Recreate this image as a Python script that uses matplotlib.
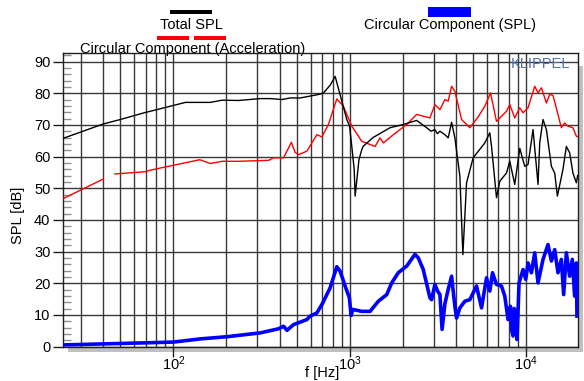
import numpy as np
import matplotlib
matplotlib.use('Agg')
import matplotlib.pyplot as plt
from matplotlib.patches import Rectangle
from matplotlib.ticker import FixedLocator, MultipleLocator, NullFormatter

plt.rcParams['font.family'] = ['Liberation Sans', 'DejaVu Sans']
plt.rcParams['mathtext.fontset'] = 'custom'
plt.rcParams['mathtext.rm'] = 'Liberation Sans'
plt.rcParams['mathtext.default'] = 'regular'

# Total SPL
total_f = [23.8, 40, 50, 69, 74, 117, 162, 189, 234, 311, 355, 413, 460, 524,
           572, 652, 708, 775, 828, 964, 1000, 1029, 1062, 1075, 1130, 1173, 1193,
           1359, 1696, 2010, 2403, 2738, 2900, 3050, 3150, 3256, 3475, 3629, 3793,
           3960, 4227, 4396, 4613, 5028, 5858, 6252, 6393, 6823, 7123, 7773, 8115,
           8662, 9247, 9870, 10304, 11000, 11741, 12004, 12531, 13102, 13984,
           14600, 15121, 16264, 17003, 17750, 18530, 19381, 19711]
total_spl = [65.8, 70.3, 71.7, 73.9, 74.3, 77.1, 77.1, 77.8, 77.7, 78.3, 78.3, 78.0, 78.5, 78.5,
             78.9, 79.5, 80.0, 82.5, 85.3, 71.7, 69.6, 63.2, 55.9, 47.5, 59.0, 62.2, 63.2,
             66.0, 69.1, 70.1, 71.4, 69.1, 68.0, 68.5, 67.2, 68.0, 66.9, 65.9, 70.8,
             65.9, 53.8, 29.0, 51.7, 59.6, 64.3, 67.5, 63.2, 47.0, 52.2, 54.8, 58.5,
             51.2, 62.6, 56.9, 57.5, 68.5, 51.2, 64.3, 71.7, 68.5, 56.9,
             54.8, 47.5, 55.9, 63.2, 61.2, 54.8, 51.7, 54.0]

# Circular Component (Acceleration), gap between 40 and 46 Hz
accel_f = [23.8, 40, np.nan, 46.5, 69, 74, 141, 162, 189, 234, 347, 370, 404, 422,
           467, 491, 513, 572, 652, 696, 758, 846, 922, 1029, 1173, 1395, 1489, 1554,
           1771, 2109, 2403, 2858, 3050, 3256, 3475, 3629, 3793, 3960, 4322, 4816,
           5366, 5858, 6310, 6823, 7773, 8115, 8662, 9247, 9654, 10304, 11246, 11741,
           12274, 13102, 13677, 14280, 15240, 15929, 16631, 17362, 18530, 19381, 19711]
accel_spl = [46.8, 52.9, np.nan, 54.5, 55.2, 55.7, 59.0, 57.8, 58.5, 58.5, 58.8, 59.6, 59.6, 59.6,
             64.5, 61.3, 60.6, 61.7, 66.9, 66.2, 70.1, 78.2, 75.9, 69.6, 64.8, 63.2, 65.9, 64.3,
             66.9, 70.1, 73.3, 72.2, 76.4, 74.8, 78.0, 77.5, 82.2, 80.6, 71.7, 69.1,
             72.5, 75.9, 80.1, 71.1, 74.3, 76.4, 72.2, 75.4, 73.8, 75.4, 82.2, 80.1,
             81.7, 76.9, 79.6, 79.3, 73.3, 69.1, 70.6, 69.6, 69.1, 66.4, 66.3]

# Circular Component (SPL)
circ_f = [23.8, 74, 100, 142, 202, 311, 395, 422, 441, 480, 572, 597, 652, 700,
          775, 846, 883, 943, 997, 1020, 1043, 1173, 1307, 1456, 1625, 1734, 1890,
          2109, 2350, 2454, 2619, 2858, 2922, 3050, 3160, 3256, 3350, 3475, 3629,
          3793, 3960, 4049, 4227, 4512, 4816, 5256, 5610, 5989, 6252, 6476, 6823,
          7283, 7603, 7937, 8190, 8330, 8472, 8600, 8777, 8924, 9161, 9654, 10000,
          10304, 10772, 11246, 11741, 12531, 13377, 13984, 14600, 15240, 15929,
          16414, 17003, 17750, 18386, 18945, 19381, 19534]
circ_spl = [0.5, 1.2, 1.4, 2.4, 3.1, 4.3, 5.6, 6.4, 5.1, 6.9, 8.5, 9.6, 10.6, 13.5,
            18.5, 25.2, 23.8, 19.1, 15.4, 9.8, 11.7, 11.1, 11.1, 14.3, 16.4, 20.1, 23.3,
            25.4, 29.1, 28.0, 24.3, 15.4, 14.8, 19.6, 17.5, 16.4, 5.4, 13.5, 18.0,
            22.2, 12.7, 9.0, 12.2, 14.3, 14.8, 19.1, 12.2, 21.7, 17.5, 23.3, 19.6,
            19.1, 15.9, 8.5, 12.7, 5.0, 3.3, 12.0, 10.6, 2.2, 20.1, 24.3, 21.2,
            26.4, 23.3, 29.6, 20.1, 27.5, 32.2, 27.0, 30.6, 23.3, 27.5,
            16.4, 29.6, 22.2, 27.5, 15.9, 26.4, 9.6]

W, H = 584, 381
FS = 10.5
fig = plt.figure(figsize=(W / 100, H / 100), dpi=100)
ax_l, ax_r, ax_t, ax_b = 63, 578, 53, 346.5
ax = fig.add_axes([ax_l / W, 1 - ax_b / H, (ax_r - ax_l) / W, (ax_b - ax_t) / H])


def px(x, y):
    return x / W, 1 - y / H


# drop shadow
fig.patches.append(Rectangle(px(ax_l + 5, ax_b + 5), (ax_r - ax_l) / W,
                             (ax_b - ax_t - 8) / H, transform=fig.transFigure,
                             facecolor='#c0c0c0', edgecolor='none', zorder=-1))

ax.plot(accel_f, accel_spl, color='#ff0000', lw=1.0, zorder=3)
ax.plot(total_f, total_spl, color='black', lw=1.0, zorder=4)
ax.plot(circ_f, circ_spl, color='#0000ff', lw=2.6, zorder=5)

ax.set_xscale('log')
ax.set_xlim(23.6, 19800)
ax.set_ylim(0, 92.7)

ax.xaxis.set_major_locator(FixedLocator([100, 1000, 10000]))
ax.set_xticklabels([r'$10^{2}$', r'$10^{3}$', r'$10^{4}$'])
ax.xaxis.set_minor_locator(FixedLocator(
    [m * 10 ** d for d in range(1, 5) for m in range(1, 10)]))
ax.xaxis.set_minor_formatter(NullFormatter())
ax.yaxis.set_major_locator(MultipleLocator(10))
ax.yaxis.set_minor_locator(MultipleLocator(2))

ax.xaxis.grid(True, which='both', color='#383838', lw=1.0)
ax.yaxis.grid(True, which='major', color='#383838', lw=1.0)
ax.set_axisbelow(True)

ax.tick_params(axis='both', which='major', direction='out', length=7, width=1,
               labelsize=FS, color='#202020', pad=2)
ax.tick_params(axis='x', which='major', pad=-1)
ax.tick_params(axis='x', which='minor', length=0)
ax.tick_params(axis='y', which='minor', direction='in', length=6, width=1,
               color='#909090')
for s in ax.spines.values():
    s.set_linewidth(1.0)
    s.set_color('#202020')

fig.text(*px(322, 373), 'f [Hz]', fontsize=FS, ha='center', va='center')
fig.text(*px(18, 215), 'SPL [dB]', fontsize=FS, ha='center', va='center',
         rotation=90)
fig.text(*px(540, 64), 'KLIPPEL', fontsize=10.5, color='#5070b0',
         ha='center', va='center')

# legend drawn above the plot
fig.patches.append(Rectangle(px(170, 13.5), 42 / W, 4 / H, transform=fig.transFigure,
                             facecolor='black', edgecolor='none'))
fig.text(*px(191, 25), 'Total SPL', fontsize=FS, ha='center', va='center')
fig.patches.append(Rectangle(px(156.5, 39.5), 32 / W, 3.5 / H, transform=fig.transFigure,
                             facecolor='#ff0000', edgecolor='none'))
fig.patches.append(Rectangle(px(193.5, 39.5), 32 / W, 3.5 / H, transform=fig.transFigure,
                             facecolor='#ff0000', edgecolor='none'))
fig.text(*px(193, 49), 'Circular Component (Acceleration)', fontsize=FS,
         ha='center', va='center')
fig.patches.append(Rectangle(px(428, 16.8), 42.5 / W, 10 / H, transform=fig.transFigure,
                             facecolor='#0000ff', edgecolor='none'))
fig.text(*px(450.5, 25.3), 'Circular Component (SPL)', fontsize=FS,
         ha='center', va='center')

fig.savefig('out.png', dpi=100)
